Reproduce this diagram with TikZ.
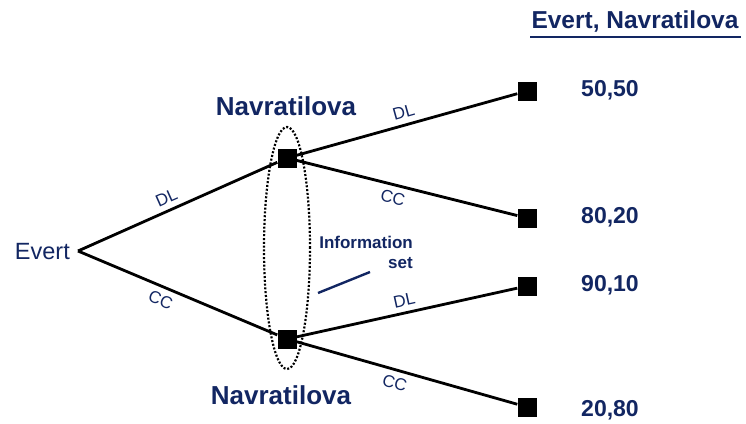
\documentclass[tikz,border=0pt]{standalone}
\usepackage{fontspec}
\setmainfont{Liberation Sans}
\definecolor{ink}{RGB}{18,38,98}
\begin{document}
\begin{tikzpicture}[x=1pt,y=-1pt,
  sq/.style={fill=black,draw=none,minimum size=19pt,inner sep=0pt},
  branch/.style={line width=2.8pt,black},
  mv/.style={text=ink,font=\fontsize{17}{17}\selectfont,inner sep=5.5pt,sloped},
  player/.style={text=ink,font=\fontsize{26}{26}\selectfont\bfseries,inner sep=0pt},
  payoff/.style={text=ink,font=\fontsize{23}{23}\selectfont\bfseries,inner sep=0pt},
]
\useasboundingbox (0,0) rectangle (746,423);

% decision nodes
\coordinate (root) at (78,251);
\node[sq] (n1) at (287,158) {};
\node[sq] (n2) at (287,339) {};
% terminal nodes
\node[sq] (t1) at (527,91) {};
\node[sq] (t2) at (527,218) {};
\node[sq] (t3) at (527,286) {};
\node[sq] (t4) at (527,407) {};

% player labels
\node[text=ink,font=\fontsize{23.5}{23.5}\selectfont,anchor=east,inner sep=0pt] (ev) at (70,252) {Evert};
\node[player] (nv1) at (286,106) {Navratilova};
\node[player] (nv2) at (281,395) {Navratilova};

% branches
\draw[branch] (root) -- node[mv,above,pos=0.47] {DL} (n1);
\draw[branch] (root) -- node[mv,below,pos=0.44] {CC} (n2);
\draw[branch] (n1) -- node[mv,above,pos=0.5] {DL} (t1);
\draw[branch] (n1) -- node[mv,below,pos=0.45] {CC} (t2);
\draw[branch] (n2) -- node[mv,above,pos=0.5] {DL} (t3);
\draw[branch] (n2) -- node[mv,below,pos=0.46] {CC} (t4);

% information set
\draw[black,line width=2.2pt,dash pattern=on 2pt off 1.8pt] (287,248) ellipse [x radius=23pt,y radius=121pt];
\node[text=ink,font=\fontsize{17}{20}\selectfont\bfseries,align=right,anchor=north east,inner sep=0pt] (info) at (413,236) {Information\\set};
\coordinate (infotip) at (318,293);
\draw[ink,line width=2.4pt] (infotip) -- (370,272);

% payoffs
\node[text=ink,font=\fontsize{24.5}{24.5}\selectfont\bfseries,inner sep=0pt] (hdr) at (635,22) {Evert, Navratilova};
\draw[ink,line width=1.8pt] (530,37) -- (741,37);
\node[payoff] (p1) at (610,90) {50,50};
\node[payoff] (p2) at (610,217) {80,20};
\node[payoff] (p3) at (610,285) {90,10};
\node[payoff] (p4) at (610,410) {20,80};
\end{tikzpicture}
\end{document}
